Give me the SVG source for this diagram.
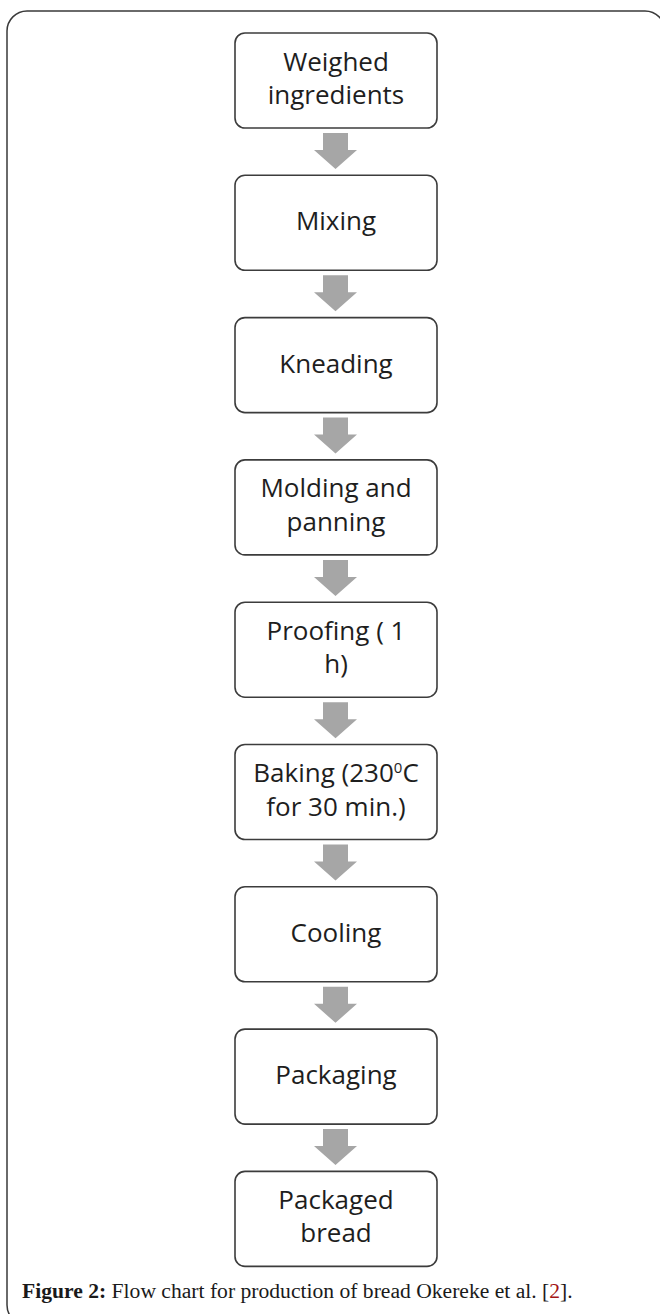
<svg xmlns="http://www.w3.org/2000/svg" width="660" height="1314" viewBox="0 0 660 1314">
  <style>
    .frame { fill: #ffffff; stroke: #3a3a3a; stroke-width: 1.5; }
    .step rect { fill: #ffffff; stroke: #3c3c3c; stroke-width: 1.6; }
    .step text { font-family: "Open Sans", Lato, sans-serif; font-size: 26px; fill: #1e1e1e; text-anchor: middle; }
    .arrow { fill: #a6a6a6; }
    .caption { font-family: "Liberation Serif", serif; font-size: 21.6px; fill: #1a1a1a; }
    .caption .bold { font-weight: bold; }
    .caption .ref { fill: #a31515; }
  </style>
  <defs>
    <!-- block arrow pointing down, origin at the bottom edge of the box above -->
    <polygon id="down" points="323,5 348,5 348,22 357,22 335.5,41 314,22 323,22"/>
  </defs>

  <rect class="frame" x="7" y="11" width="658" height="1314" rx="20" ry="20"/>

  <g id="connectors">
    <use href="#down" class="arrow" x="0" y="128"/>
    <use href="#down" class="arrow" x="0" y="270.3"/>
    <use href="#down" class="arrow" x="0" y="412.6"/>
    <use href="#down" class="arrow" x="0" y="554.9"/>
    <use href="#down" class="arrow" x="0" y="697.2"/>
    <use href="#down" class="arrow" x="0" y="839.5"/>
    <use href="#down" class="arrow" x="0" y="981.8"/>
    <use href="#down" class="arrow" x="0" y="1124.1"/>
  </g>

  <g id="weighed" class="step">
    <rect x="235" y="33" width="202" height="95" rx="10"/>
    <text x="336" y="70.5">Weighed</text>
    <text x="336" y="104">ingredients</text>
  </g>
  <g id="mixing" class="step">
    <rect x="235" y="175.3" width="202" height="95" rx="10"/>
    <text x="336" y="230.3">Mixing</text>
  </g>
  <g id="kneading" class="step">
    <rect x="235" y="317.6" width="202" height="95" rx="10"/>
    <text x="336" y="372.6">Kneading</text>
  </g>
  <g id="molding" class="step">
    <rect x="235" y="459.9" width="202" height="95" rx="10"/>
    <text x="336" y="497.4">Molding and</text>
    <text x="336" y="530.9">panning</text>
  </g>
  <g id="proofing" class="step">
    <rect x="235" y="602.2" width="202" height="95" rx="10"/>
    <text x="336" y="639.7">Proofing ( 1</text>
    <text x="336" y="673.2">h)</text>
  </g>
  <g id="baking" class="step">
    <rect x="235" y="744.5" width="202" height="95" rx="10"/>
    <text x="336" y="782">Baking (230<tspan font-size="15" dy="-9">0</tspan><tspan dy="9">C</tspan></text>
    <text x="336" y="815.5">for 30 min.)</text>
  </g>
  <g id="cooling" class="step">
    <rect x="235" y="886.8" width="202" height="95" rx="10"/>
    <text x="336" y="941.8">Cooling</text>
  </g>
  <g id="packaging" class="step">
    <rect x="235" y="1029.1" width="202" height="95" rx="10"/>
    <text x="336" y="1084.1">Packaging</text>
  </g>
  <g id="packaged-bread" class="step">
    <rect x="235" y="1171.4" width="202" height="95" rx="10"/>
    <text x="336" y="1208.9">Packaged</text>
    <text x="336" y="1242.4">bread</text>
  </g>

  <text class="caption" x="22" y="1298"><tspan class="bold">Figure 2:</tspan> Flow chart for production of bread Okereke et al. [<tspan class="ref">2</tspan>].</text>
</svg>
